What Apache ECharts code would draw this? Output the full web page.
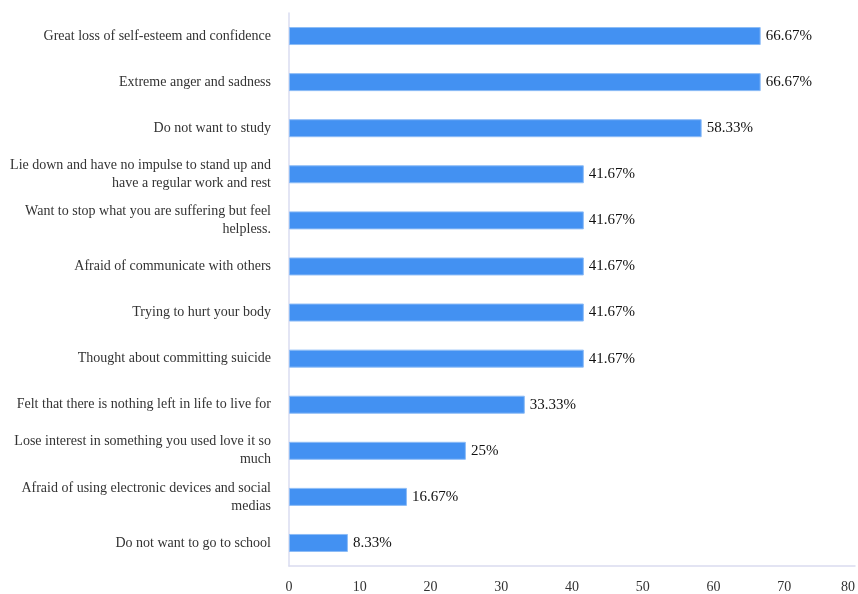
<!DOCTYPE html>
<html>
<head>
<meta charset="utf-8">
<script src="https://cdn.jsdelivr.net/npm/echarts@6/dist/echarts.min.js"></script>
<style>
  html, body { margin: 0; padding: 0; background: #ffffff; }
  #chart { width: 858px; height: 594px; }
</style>
</head>
<body>
<div id="chart"></div>
<script>
// Reported feelings, top to bottom
const categories = [
  'Great loss of self-esteem and confidence',
  'Extreme anger and sadness',
  'Do not want to study',
  'Lie down and have no impulse to stand up and\nhave a regular work and rest',
  'Want to stop what you are suffering but feel\nhelpless.',
  'Afraid of communicate with others',
  'Trying to hurt your body',
  'Thought about committing suicide',
  'Felt that there is nothing left in life to live for',
  'Lose interest in something you used love it so\nmuch',
  'Afraid of using electronic devices and social\nmedias',
  'Do not want to go to school'
];

// Share of respondents (%)
const percentages = [66.67, 66.67, 58.33, 41.67, 41.67, 41.67, 41.67, 41.67, 33.33, 25, 16.67, 8.33];

// Value-axis ticks
const axisMin = 0;
const axisMax = 80;
const axisStep = 10;

const FONT = '"Liberation Serif", "Times New Roman", serif';
const AXIS_COLOR = '#dadcf0';

const chart = echarts.init(document.getElementById('chart'));
chart.setOption({
  backgroundColor: '#ffffff',
  animation: false,
  grid: { left: 289, right: 2, top: 13, bottom: 28, containLabel: false },
  xAxis: {
    type: 'value',
    min: axisMin,
    max: axisMax,
    interval: axisStep,
    axisLine: { show: true, lineStyle: { color: AXIS_COLOR, width: 1.5 } },
    axisTick: { show: false },
    splitLine: { show: false },
    axisLabel: {
      fontFamily: FONT, fontSize: 14, color: '#333333', margin: 14,
      alignMaxLabel: 'right'
    }
  },
  yAxis: {
    type: 'category',
    data: categories,
    inverse: true,
    axisLine: { show: true, lineStyle: { color: AXIS_COLOR, width: 1.5 } },
    axisTick: { show: false },
    axisLabel: {
      fontFamily: FONT, fontSize: 14, color: '#333333', margin: 18,
      align: 'right', lineHeight: 18
    }
  },
  series: [{
    type: 'bar',
    data: percentages,
    barWidth: 18,
    itemStyle: { color: '#4391f2', borderColor: '#8dbcf6', borderWidth: 1 },
    label: {
      show: true,
      position: 'right',
      distance: 5,
      fontFamily: FONT,
      fontSize: 15,
      color: '#111111',
      formatter: p => p.value + '%'
    }
  }]
});
</script>
</body>
</html>
